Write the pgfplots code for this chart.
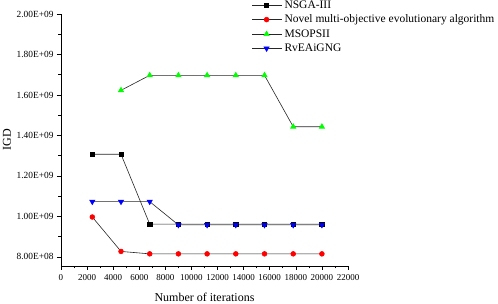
\documentclass[border=0pt]{standalone}
\usepackage{pgfplots}
\pgfplotsset{compat=1.18}
\usepackage{fontspec}
\setmainfont{Liberation Serif}
\begin{document}
\begin{tikzpicture}
\begin{axis}[
  at={(0,0)}, anchor=south west,
  scale only axis, width=287pt, height=252pt,
  xmin=0, xmax=22000, ymin=7.55e8, ymax=2e9,
  axis lines*=left, axis line style={-, line width=0.8pt},
  tick align=outside, tick style={black, line width=0.6pt},
  major tick length=4pt, minor tick length=2.5pt,
  xtick={0,2000,...,22000}, minor x tick num=1,
  ytick={8e8,1e9,1.2e9,1.4e9,1.6e9,1.8e9,2e9}, minor y tick num=1,
  yticklabels={8.00E+08,1.00E+09,1.20E+09,1.40E+09,1.60E+09,1.80E+09,2.00E+09},
  scaled ticks=false,
  /pgf/number format/assume math mode=true,
  /pgf/number format/set thousands separator={},
  ticklabel style={font=\fontsize{9.4}{10}\selectfont},
  xticklabel style={yshift=-1pt, font=\fontsize{9}{10}\selectfont},
  xlabel={Number of iterations}, ylabel={IGD},
  xlabel style={at={(axis description cs:0.5,-0.123)}, anchor=center, font=\fontsize{12}{13}\selectfont},
  ylabel style={at={(axis description cs:-0.188,0.5)}, anchor=center, font=\fontsize{12}{13}\selectfont},
  legend style={at={(0.665,1.062)}, anchor=north west, draw=none, fill=none,
    font=\fontsize{11.5}{12.5}\selectfont, row sep=1.2pt, inner sep=0pt},
  legend cell align=left,
  legend image code/.code={\draw[mark repeat=2,mark phase=2] plot coordinates {(0cm,0cm)(0.5cm,0cm)(1.05cm,0cm)};},
  every axis plot/.append style={line width=0.6pt, color=black!85},
]
\addplot[mark=square*, mark size=2.2pt, mark options={fill=black, draw=black}] coordinates {
(2400,1.307e9)(4600,1.307e9)(6800,9.62e8)(9000,9.62e8)(11200,9.62e8)(13400,9.62e8)(15600,9.62e8)(17800,9.62e8)(20000,9.62e8)};
\addlegendentry{NSGA-III}
\addplot[mark=*, mark size=2.4pt, mark options={fill=red, draw=red}] coordinates {
(2400,9.97e8)(4600,8.27e8)(6800,8.15e8)(9000,8.15e8)(11200,8.15e8)(13400,8.15e8)(15600,8.15e8)(17800,8.15e8)(20000,8.15e8)};
\addlegendentry{Novel multi-objective evolutionary algorithm}
\addplot[mark=triangle*, mark size=3pt, mark options={fill=green, draw=green}] coordinates {
(4600,1.623e9)(6800,1.697e9)(9000,1.697e9)(11200,1.697e9)(13400,1.697e9)(15600,1.697e9)(17800,1.443e9)(20000,1.443e9)};
\addlegendentry{MSOPSII}
\addplot[mark=triangle*, mark size=3pt, mark options={fill=blue, draw=blue, rotate=180}] coordinates {
(2400,1.073e9)(4600,1.073e9)(6800,1.073e9)(9000,9.58e8)(11200,9.58e8)(13400,9.58e8)(15600,9.58e8)(17800,9.58e8)(20000,9.58e8)};
\addlegendentry{RvEAiGNG}
\end{axis}
\pgfresetboundingbox
\path[use as bounding box] (-61pt,-38pt) rectangle (437pt,266pt);
\end{tikzpicture}
\end{document}
